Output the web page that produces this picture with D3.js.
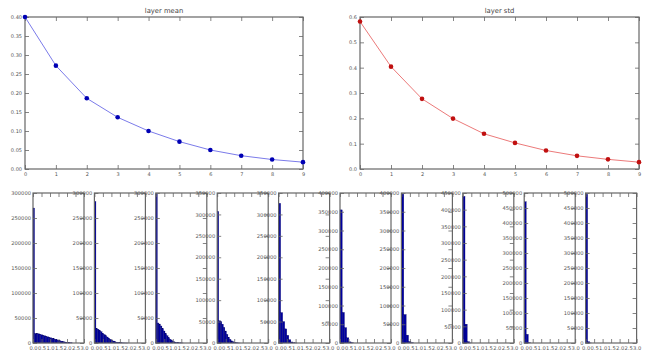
<!DOCTYPE html>
<html><head><meta charset="utf-8">
<script src="https://cdn.jsdelivr.net/npm/d3@7"></script>
<style>
html,body{margin:0;padding:0;background:#fff;}
svg{display:block;font-family:"DejaVu Sans",sans-serif;}
</style></head>
<body>
<svg id="chart" width="646" height="355"></svg>
<script>
// ---- data ----
const layers = [0,1,2,3,4,5,6,7,8,9];
const meanVals = [0.400, 0.272, 0.186, 0.136, 0.100, 0.072, 0.050, 0.035, 0.025, 0.018];
const stdVals  = [0.582, 0.404, 0.277, 0.199, 0.139, 0.103, 0.073, 0.052, 0.038, 0.027];
const meanTicks = [0.00,0.05,0.10,0.15,0.20,0.25,0.30,0.35,0.40];
const stdTicks = [0.0,0.1,0.2,0.3,0.4,0.5,0.6];
const histXTicks = [0.0,0.5,1.0,1.5,2.0,2.5,3.0];
const histYMax = [300000,300000,300000,350000,350000,400000,400000,450000,500000,500000];
const histBinWidth = [0.09,0.09,0.09,0.09,0.12,0.13,0.14,0.13,0.12,0.12];
const hist0 = [270000,19000,19000,18500,17500,16500,15500,14500,13500,12500,11500,10500,9500,8500,7500,6500,5500,4600,3800,3000,2300,1700,1200,800,500,300];
const hist1 = [283000,29000,27500,25000,22500,19500,17000,14500,12000,9500,7500,5500,4000,2800,1800,1100,700,400,250,150,80,40];
const hist2 = [298000,40000,38000,34000,29000,24000,19000,14500,10500,7500,5000,3200,2000,1200,700,400,200,100];
const hist3 = [307000,52000,50000,44000,36000,28000,20000,13500,8500,5000,2800,1500,700,300,100];
const hist4 = [326000,71000,50000,33000,18000,7800,2400,600,150];
const hist5 = [355000,81600,41000,14000,3000,500];
const hist6 = [397000,76000,21000,4000,500];
const hist7 = [440000,56500,4000,300];
const hist8 = [471000,29000,1000];
const hist9 = [496000,4500,300];
const hists = [hist0,hist1,hist2,hist3,hist4,hist5,hist6,hist7,hist8,hist9];

// ---- drawing ----
const svg = d3.select("#chart");
const textCol = "#555";
const frameCol = "#666";

function styleAxis(g, fs){
  g.select(".domain").remove();
  g.selectAll(".tick line").attr("stroke", frameCol).attr("stroke-width", 0.8);
  g.selectAll(".tick text").attr("fill", textCol).style("font-size", fs+"px").style("font-family","DejaVu Sans");
}

function frame(x0,y0,x1,y1){
  svg.append("rect").attr("x",x0).attr("y",y0).attr("width",x1-x0).attr("height",y1-y0)
    .attr("fill","none").attr("stroke",frameCol).attr("stroke-width",1.2);
}

function lineChart(vals, ticks, fmt, x0, x1, y0, y1, lineCol, markCol, title){
  const x = d3.scaleLinear().domain([0,9]).range([x0,x1]);
  const y = d3.scaleLinear().domain([0,ticks[ticks.length-1]]).range([y1,y0]);
  const fs = 5;
  svg.append("g").attr("transform",`translate(0,${y1})`)
    .call(d3.axisBottom(x).tickValues(layers).tickFormat(d3.format("d")).tickSize(-4).tickPadding(3))
    .call(g=>styleAxis(g,fs));
  svg.append("g").attr("transform",`translate(0,${y0})`)
    .call(d3.axisTop(x).tickValues(layers).tickFormat("").tickSize(-4))
    .call(g=>styleAxis(g,fs));
  svg.append("g").attr("transform",`translate(${x0},0)`)
    .call(d3.axisLeft(y).tickValues(ticks).tickFormat(d3.format(fmt)).tickSize(-4).tickPadding(3))
    .call(g=>styleAxis(g,fs));
  svg.append("g").attr("transform",`translate(${x1},0)`)
    .call(d3.axisRight(y).tickValues(ticks).tickFormat("").tickSize(-4))
    .call(g=>styleAxis(g,fs));
  frame(x0,y0,x1,y1);
  svg.append("path").datum(vals)
    .attr("d", d3.line().x((d,i)=>x(layers[i])).y(d=>y(d)))
    .attr("fill","none").attr("stroke",lineCol).attr("stroke-width",1);
  svg.append("g").selectAll("circle").data(vals).join("circle")
    .attr("cx",(d,i)=>x(layers[i])).attr("cy",d=>y(d)).attr("r",2.3)
    .attr("fill",markCol);
  svg.append("text").attr("x",(x0+x1)/2).attr("y",y0-4).attr("text-anchor","middle")
    .attr("fill","#444").style("font-size","6.8px").text(title);
}

lineChart(meanVals, meanTicks, ".2f", 25, 303, 17, 169, "#7b7bea", "#0000b4", "layer mean");
lineChart(stdVals, stdTicks, ".1f", 360, 639, 17, 169, "#ec7a7a", "#c01010", "layer std");

// histograms
const hTop = 193, hBot = 343, hW = 51, hStep = 61.4, hLeft0 = 33;
hists.forEach((counts, i) => {
  const x0 = hLeft0 + i*hStep, x1 = x0 + hW;
  const x = d3.scaleLinear().domain([0,3]).range([x0,x1]);
  const ymax = histYMax[i];
  const y = d3.scaleLinear().domain([0,ymax]).range([hBot,hTop]);
  const yt = d3.range(0, ymax+1, 50000);
  const fs = 5.2;
  const bw = histBinWidth[i];
  svg.append("g").selectAll("rect").data(counts).join("rect")
    .attr("x",(d,k)=>x(k*bw)).attr("width",(d,k)=>x((k+1)*bw)-x(k*bw))
    .attr("y",d=>y(d)).attr("height",d=>hBot-y(d))
    .attr("fill","#0000a0").attr("stroke","#000060").attr("stroke-width",0.3);
  svg.append("g").attr("transform",`translate(0,${hBot})`)
    .call(d3.axisBottom(x).tickValues(histXTicks).tickFormat(d3.format(".1f")).tickSize(-4).tickPadding(3))
    .call(g=>styleAxis(g,fs));
  svg.append("g").attr("transform",`translate(0,${hTop})`)
    .call(d3.axisTop(x).tickValues(histXTicks).tickFormat("").tickSize(-4))
    .call(g=>styleAxis(g,fs));
  svg.append("g").attr("transform",`translate(${x0},0)`)
    .call(d3.axisLeft(y).tickValues(yt).tickFormat(d3.format("d")).tickSize(-4).tickPadding(2))
    .call(g=>styleAxis(g,fs));
  svg.append("g").attr("transform",`translate(${x1},0)`)
    .call(d3.axisRight(y).tickValues(yt).tickFormat("").tickSize(-4))
    .call(g=>styleAxis(g,fs));
  frame(x0,hTop,x1,hBot);
});
</script>
</body></html>
